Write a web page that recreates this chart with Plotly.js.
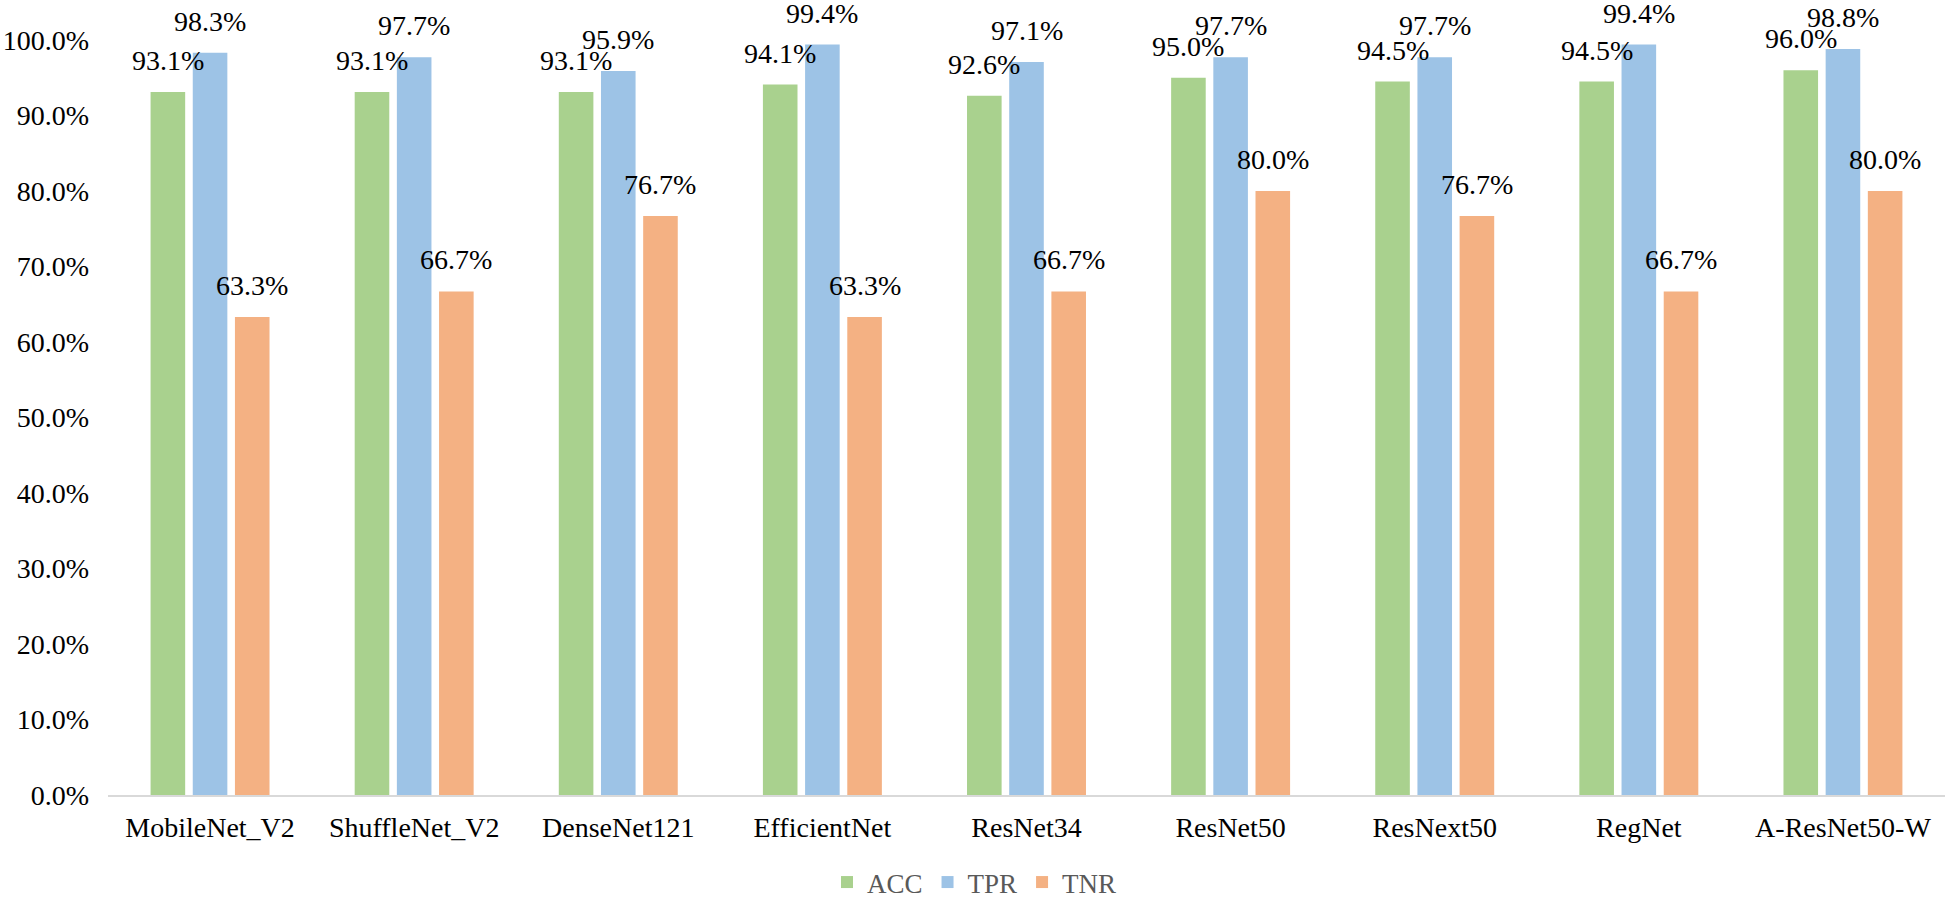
<!DOCTYPE html>
<html>
<head>
<meta charset="utf-8">
<script src="https://cdn.plot.ly/plotly-3.0.1.min.js"></script>
<style>html,body{margin:0;padding:0;background:#fff;}#chart{width:1949px;height:907px;}</style>
</head>
<body>
<div id="chart"></div>
<script>
const categories = ["MobileNet_V2","ShuffleNet_V2","DenseNet121","EfficientNet","ResNet34","ResNet50","ResNext50","RegNet","A-ResNet50-W"];
const seriesNames = ["ACC","TPR","TNR"];
const accValues = [93.1, 93.1, 93.1, 94.1, 92.6, 95.0, 94.5, 94.5, 96.0];
const tprValues = [98.3, 97.7, 95.9, 99.4, 97.1, 97.7, 97.7, 99.4, 98.8];
const tnrValues = [63.3, 66.7, 76.7, 63.3, 66.7, 80.0, 76.7, 66.7, 80.0];
const yTickValues = [0,10,20,30,40,50,60,70,80,90,100];
const yTickLabels = ["0.0%","10.0%","20.0%","30.0%","40.0%","50.0%","60.0%","70.0%","80.0%","90.0%","100.0%"];

const colors = ["#A9D18E","#9DC3E6","#F4B183"];
const seriesValues = [accValues, tprValues, tnrValues];
const FONT = "Liberation Serif, Times New Roman, serif";

const traces = seriesValues.map((vals, i) => ({
  type: "bar",
  name: seriesNames[i],
  x: categories,
  y: vals,
  marker: {color: colors[i], line: {width: 0}},
  hoverinfo: "x+y+name"
}));

const plotLeft = 108, plotRight = 1945;
const catWidth = (plotRight - plotLeft) / categories.length;
const bargap = 0.38;
const slot = catWidth * (1 - bargap) / 3;

const annotations = [];
seriesValues.forEach((vals, i) => {
  vals.forEach((v, j) => {
    annotations.push({
      xref: "x", yref: "y",
      x: categories[j], y: v,
      xshift: (i - 1) * slot,
      yshift: 14,
      yanchor: "bottom", xanchor: "center",
      text: v.toFixed(1) + "%",
      showarrow: false,
      font: {family: FONT, size: 28, color: "#000"}
    });
  });
});

const layout = {
  width: 1949, height: 907,
  margin: {l: plotLeft, r: 1949 - plotRight, t: 40, b: 112},
  paper_bgcolor: "#fff", plot_bgcolor: "#fff",
  font: {family: FONT, size: 28, color: "#000"},
  barmode: "group",
  bargap: bargap,
  bargroupgap: 0.18,
  xaxis: {
    type: "category",
    showgrid: false,
    showline: true, linecolor: "#D9D9D9", linewidth: 2,
    ticks: "", zeroline: false,
    tickfont: {family: FONT, size: 28, color: "#000"},
    ticklabelstandoff: 6
  },
  yaxis: {
    range: [0, 100],
    tickvals: yTickValues,
    ticktext: yTickLabels,
    showgrid: false, zeroline: false, showline: false,
    ticks: "",
    tickfont: {family: FONT, size: 28, color: "#000"},
    ticklabelstandoff: 18
  },
  showlegend: true,
  legend: {
    orientation: "h",
    xref: "container", yref: "container",
    x: 0.5, xanchor: "center",
    y: 0, yanchor: "bottom",
    font: {family: FONT, size: 27, color: "#595959"},
    itemwidth: 30,
    traceorder: "normal"
  },
  annotations: annotations
};

Plotly.newPlot("chart", traces, layout, {displayModeBar: false, staticPlot: true});
</script>
</body>
</html>
